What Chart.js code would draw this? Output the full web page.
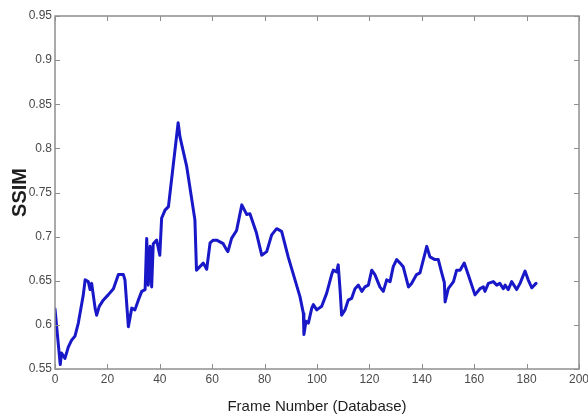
<!DOCTYPE html>
<html>
<head>
<meta charset="utf-8">
<script src="https://cdn.jsdelivr.net/npm/chart.js@4.4.0/dist/chart.umd.min.js"></script>
<style>
    html, body { margin: 0; padding: 0; background: #fff; }
    #wrap { width: 588px; height: 419px; }
</style>
</head>
<body>
<div id="wrap"><canvas id="ssimChart" width="588" height="419"></canvas></div>
<script>
// values
const frames = [0, 2, 2.5, 3.8, 5.1, 6.4, 7.6, 8.9, 10.8, 11.5, 12.7, 13.4, 14, 15.3, 15.9, 16.9, 18.4, 20.3,
    22.3, 24.2, 26.1, 26.7, 28, 29.3, 30.5, 31.8, 33.1, 34.4, 35, 35.6, 36.3, 36.9, 37.5, 38.8, 40, 40.7,
    42, 43.3, 47, 47.7, 50.3, 53.4, 54, 55.3, 56.6, 57.9, 59.2, 60.4, 61.7, 64.2, 65.5, 66, 67.4, 69.3,
    71.3, 73.2, 74.4, 76.9, 78.9, 80.8, 82.7, 84.6, 86.5, 89, 91.6, 93.5, 94.8, 95, 95.8, 96.7, 98, 98.6,
    99.9, 101.8, 103.7, 105.6, 106.2, 107.5, 108.1, 108.8, 109.4, 110.7, 111.9, 113.2, 114.5, 115.8,
    117.1, 118.3, 119.6, 120.9, 122.1, 124, 125.3, 126.6, 127.9, 129.1, 130.4, 131.7, 132.9, 134.9,
    136.1, 138, 139.3, 140.6, 141.9, 143.1, 145, 146.3, 147.6, 148.6, 148.9, 150.1, 152.1, 153.3, 154.6,
    156.2, 157.7, 160.3, 162.2, 163.5, 164.1, 165.4, 167.3, 168.6, 169.8, 171.1, 171.8, 173, 174.3,
    176.2, 177.5, 179.4, 180.6, 182, 183.6];
const ssim = [0.618, 0.555, 0.568, 0.562, 0.575, 0.583, 0.587, 0.602, 0.634, 0.651, 0.649, 0.640, 0.647,
    0.619, 0.611, 0.621, 0.628, 0.634, 0.641, 0.657, 0.657, 0.651, 0.598, 0.619, 0.617, 0.628, 0.638,
    0.640, 0.698, 0.645, 0.689, 0.643, 0.692, 0.696, 0.679, 0.721, 0.730, 0.734, 0.829, 0.813, 0.779,
    0.719, 0.662, 0.666, 0.670, 0.663, 0.693, 0.696, 0.696, 0.692, 0.685, 0.683, 0.698, 0.707, 0.736,
    0.725, 0.726, 0.704, 0.679, 0.683, 0.702, 0.709, 0.706, 0.677, 0.651, 0.632, 0.613, 0.589, 0.604,
    0.602, 0.619, 0.623, 0.617, 0.621, 0.636, 0.657, 0.662, 0.660, 0.668, 0.640, 0.611, 0.617, 0.628,
    0.630, 0.641, 0.645, 0.638, 0.643, 0.645, 0.662, 0.657, 0.643, 0.638, 0.651, 0.649, 0.666, 0.674,
    0.670, 0.666, 0.643, 0.647, 0.657, 0.659, 0.674, 0.689, 0.677, 0.674, 0.674, 0.659, 0.648, 0.626,
    0.641, 0.649, 0.662, 0.662, 0.670, 0.657, 0.634, 0.641, 0.643, 0.638, 0.647, 0.649, 0.645, 0.647,
    0.641, 0.645, 0.640, 0.649, 0.640, 0.647, 0.661, 0.651, 0.642, 0.647];
const xTicks = [0, 20, 40, 60, 80, 100, 120, 140, 160, 180, 200];
const yTicks = [0.55, 0.6, 0.65, 0.7, 0.75, 0.8, 0.85, 0.9, 0.95];
const yTickLabels = ['0.55', '0.6', '0.65', '0.7', '0.75', '0.8', '0.85', '0.9', '0.95'];

const AXIS_COLOR = '#8f8f8f';
const LABEL_COLOR = '#4a4a4a';

// matlab style box with inward ticks
const boxTicks = {
    id: 'boxTicks',
    afterDraw(chart) {
        const { ctx, chartArea: a, scales } = chart;
        const len = 5;
        ctx.save();
        ctx.strokeStyle = AXIS_COLOR;
        ctx.lineWidth = 1.5;
        ctx.strokeRect(a.left, a.top, a.right - a.left, a.bottom - a.top);
        ctx.lineWidth = 1;
        ctx.beginPath();
        xTicks.forEach(v => {
            const px = Math.round(scales.x.getPixelForValue(v)) + 0.5;
            ctx.moveTo(px, a.bottom); ctx.lineTo(px, a.bottom - len);
            ctx.moveTo(px, a.top); ctx.lineTo(px, a.top + len);
        });
        yTicks.forEach(v => {
            const py = Math.round(scales.y.getPixelForValue(v)) + 0.5;
            ctx.moveTo(a.left, py); ctx.lineTo(a.left + len, py);
            ctx.moveTo(a.right, py); ctx.lineTo(a.right - len, py);
        });
        ctx.stroke();
        ctx.restore();
    }
};

const points = frames.map((f, i) => ({ x: f, y: ssim[i] }));

new Chart(document.getElementById('ssimChart'), {
    type: 'line',
    data: {
        datasets: [{
            label: 'SSIM',
            data: points,
            borderColor: '#1818c8',
            borderWidth: 3,
            borderJoinStyle: 'round',
            borderCapStyle: 'round',
            pointRadius: 0,
            tension: 0,
            fill: false
        }]
    },
    options: {
        responsive: false,
        animation: false,
        devicePixelRatio: 1,
        layout: { padding: { top: 16, right: 0, left: 0, bottom: 0 } },
        plugins: { legend: { display: false }, tooltip: { enabled: false } },
        scales: {
            x: {
                type: 'linear',
                min: 0,
                max: 200,
                afterBuildTicks: s => { s.ticks = xTicks.map(v => ({ value: v })); },
                afterFit: s => { s.height = 50; s.paddingRight = 9; },
                grid: { display: false, drawTicks: false },
                border: { display: false },
                ticks: {
                    padding: 3,
                    color: LABEL_COLOR,
                    font: { family: 'Liberation Sans, Arial', size: 12 },
                    maxRotation: 0,
                    callback: v => String(v)
                },
                title: {
                    display: true,
                    text: 'Frame Number (Database)',
                    color: '#1e1e1e',
                    font: { family: 'Liberation Sans, Arial', size: 15 },
                    padding: { top: 3, bottom: 3 }
                }
            },
            y: {
                min: 0.55,
                max: 0.95,
                afterBuildTicks: s => { s.ticks = yTicks.map(v => ({ value: v })); },
                afterFit: s => { s.width = 55; },
                grid: { display: false, drawTicks: false },
                border: { display: false },
                ticks: {
                    padding: 3,
                    color: LABEL_COLOR,
                    font: { family: 'Liberation Sans, Arial', size: 12 },
                    callback: (v, i) => yTickLabels[i]
                },
                title: {
                    display: true,
                    text: 'SSIM',
                    color: '#1e1e1e',
                    font: { family: 'Liberation Sans, Arial', size: 20, weight: 'bold' },
                    padding: { top: 8, bottom: 0 }
                }
            }
        }
    },
    plugins: [boxTicks]
});
</script>
</body>
</html>
